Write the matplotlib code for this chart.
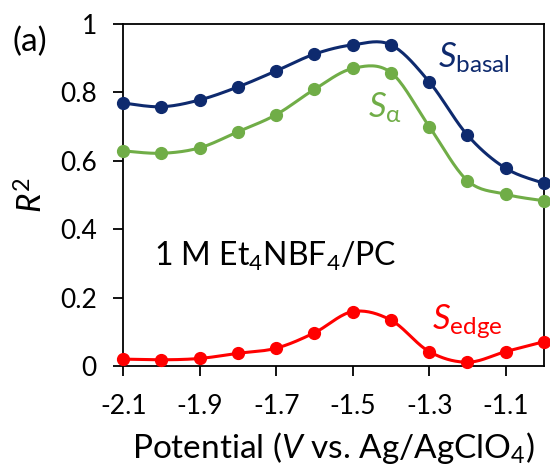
import numpy as np
import matplotlib.pyplot as plt

# Data
potential = [-2.1, -2.0, -1.9, -1.8, -1.7, -1.6, -1.5, -1.4, -1.3, -1.2, -1.1, -1.0]
r2_basal = [0.769, 0.758, 0.778, 0.816, 0.863, 0.912, 0.939, 0.939, 0.831, 0.675, 0.578, 0.534]
r2_alpha = [0.629, 0.622, 0.638, 0.685, 0.735, 0.809, 0.870, 0.858, 0.700, 0.542, 0.502, 0.483]
r2_edge = [0.020, 0.018, 0.022, 0.037, 0.052, 0.097, 0.159, 0.134, 0.042, 0.011, 0.042, 0.071]

x_ticks = [-2.1, -1.9, -1.7, -1.5, -1.3, -1.1]
y_ticks = [0, 0.2, 0.4, 0.6, 0.8, 1]

plt.rcParams['font.family'] = ['Lato', 'DejaVu Sans']
plt.rcParams['mathtext.fontset'] = 'custom'
plt.rcParams['mathtext.rm'] = 'Lato'
plt.rcParams['mathtext.it'] = 'Lato:italic'


def smooth(x, y, n=20):
    # Excel-style smoothed line: Catmull-Rom segments through the points
    x = np.asarray(x, float)
    y = np.asarray(y, float)
    px = np.concatenate([[x[0]], x, [x[-1]]])
    py = np.concatenate([[y[0]], y, [y[-1]]])
    xs, ys = [], []
    t = np.linspace(0, 1, n)
    for i in range(1, len(px) - 2):
        p0, p1, p2, p3 = (np.array([px[j], py[j]]) for j in (i - 1, i, i + 1, i + 2))
        c1 = p1 + (p2 - p0) / 6
        c2 = p2 - (p3 - p1) / 6
        seg = ((1 - t) ** 3)[:, None] * p1 + (3 * (1 - t) ** 2 * t)[:, None] * c1 \
            + (3 * (1 - t) * t ** 2)[:, None] * c2 + (t ** 3)[:, None] * p2
        xs.append(seg[:, 0])
        ys.append(seg[:, 1])
    return np.concatenate(xs), np.concatenate(ys)


fig = plt.figure(figsize=(5.5, 4.71), dpi=100)
ax = fig.add_axes([0.224, 0.223, 0.765, 0.726])

series = [
    (r2_basal, '#0E2A6E'),
    (r2_alpha, '#70AD47'),
    (r2_edge, '#FF0000'),
]
for vals, col in series:
    sx, sy = smooth(potential, vals)
    ax.plot(sx, sy, color=col, linewidth=2.2, clip_on=False, zorder=3)
    ax.plot(potential, vals, 'o', color=col, markersize=8.5, clip_on=False, zorder=4)

ax.set_xlim(-2.1, -1.0)
ax.set_ylim(0, 1)
ax.set_xticks(x_ticks)
ax.set_xticklabels(['%.1f' % v for v in x_ticks])
ax.set_yticks(y_ticks)
ax.set_yticklabels(['0', '0.2', '0.4', '0.6', '0.8', '1'])
ax.tick_params(direction='out', length=7, width=1.3, labelsize=19, colors='black')
ax.tick_params(axis='x', pad=13)
ax.tick_params(axis='y', pad=12)
for s in ax.spines.values():
    s.set_linewidth(1.3)

ax.set_xlabel(r'Potential ($\mathit{V}$ vs. Ag/AgClO$_4$)', fontsize=24, labelpad=8)
ax.set_ylabel(r'$\mathit{R}^2$', fontsize=24, labelpad=8)

fig.text(0.022, 0.91, '(a)', fontsize=24, ha='left', va='center')
ax.text(-1.277, 0.90, r'$\mathit{S}_{\mathrm{basal}}$', color='#0E2A6E', fontsize=25, ha='left', va='center')
ax.text(-1.46, 0.755, r'$\mathit{S}_{\mathrm{\alpha}}$', color='#70AD47', fontsize=25, ha='left', va='center')
ax.text(-2.02, 0.32, r'1 M Et$_4$NBF$_4$/PC', color='black', fontsize=23, ha='left', va='center')
ax.text(-1.293, 0.13, r'$\mathit{S}_{\mathrm{edge}}$', color='#FF0000', fontsize=25, ha='left', va='center')

fig.savefig('out.png', dpi=100)
